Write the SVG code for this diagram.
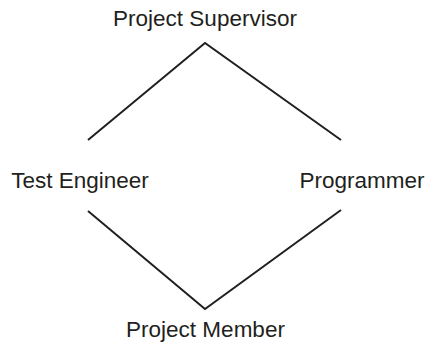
<svg xmlns="http://www.w3.org/2000/svg" width="427" height="345" viewBox="0 0 427 345">
<style>
text{font-family:"Liberation Sans",Arial,sans-serif;font-size:22.5px;fill:#231f20;text-anchor:middle}
.c{stroke:#231f20;stroke-width:2;fill:none}
</style>
<rect width="427" height="345" fill="#fff"/>
<g id="connectors">
<path class="c" d="M88,140 L205,43 L341,140"/>
<path class="c" d="M88,211 L205,309 L341,210"/>
</g>
<g id="supervisor"><text x="205" y="26">Project Supervisor</text></g>
<g id="tester"><text x="80" y="188">Test Engineer</text></g>
<g id="programmer"><text x="362" y="188">Programmer</text></g>
<g id="member"><text x="205.5" y="337">Project Member</text></g>
</svg>
